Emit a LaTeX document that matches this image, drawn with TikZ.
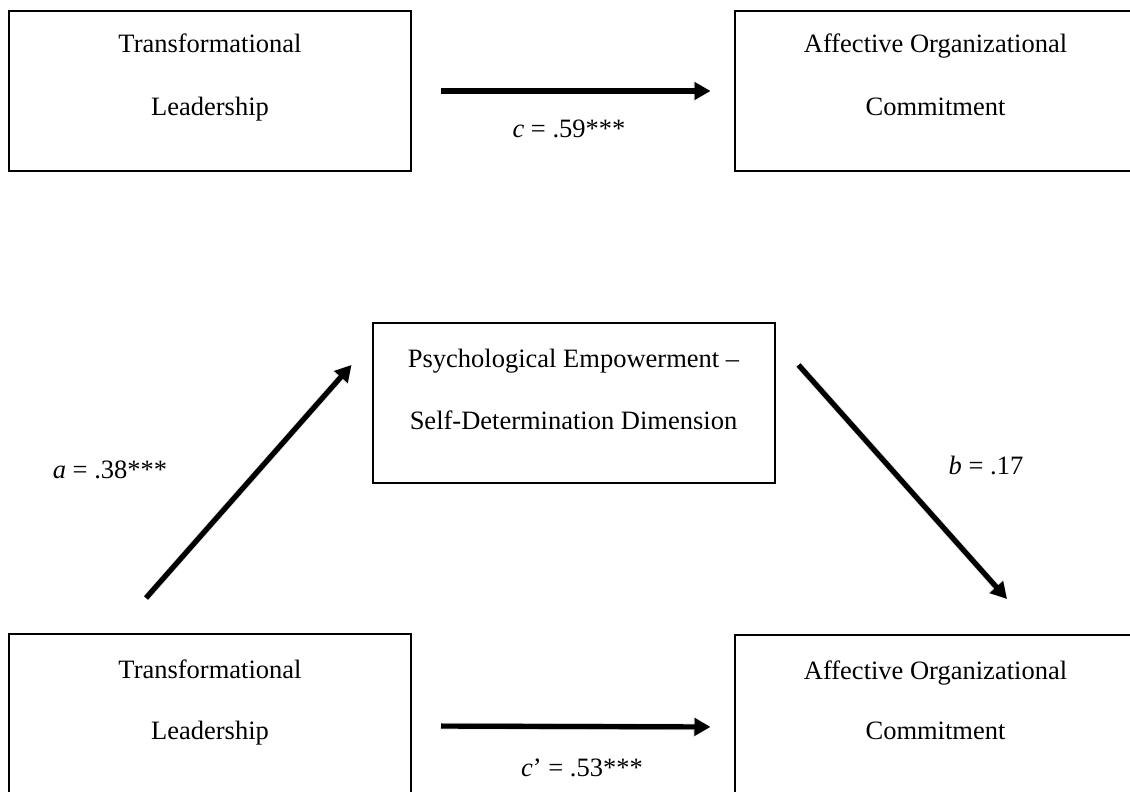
\documentclass[tikz,border=0pt]{standalone}
\usepackage{fontspec}
\setmainfont{Liberation Serif}
\usetikzlibrary{arrows.meta}
\begin{document}
\begin{tikzpicture}[x=0.5pt,y=-0.5pt,
  box/.style={draw, line width=1pt, minimum width=201pt, minimum height=80pt, inner sep=0pt},
  txt/.style={anchor=base, inner sep=0pt, font=\fontsize{13.25pt}{16pt}\selectfont},
  path arrow/.style={line width=2.6pt, -{Triangle[length=8pt,width=8.5pt]}},
  shade arrow/.style={line width=3.2pt, draw=black!35, opacity=0.45, -{Triangle[length=8.5pt,width=9.5pt]}}
]
\useasboundingbox (0,0) rectangle (1130,792);
\clip (0,0) rectangle (1130,792);

% total effect model
\node[box] (tl) at (210,91) {};
\node[box] (tr) at (935.5,91) {};
\node[txt] (tl1) at (210,53) {Transformational};
\node[txt] (tl2) at (210,116) {Leadership};
\node[txt] (tr1) at (935.5,53) {Affective Organizational};
\node[txt] (tr2) at (935.5,116) {Commitment};

% mediation model
\node[box] (mid) at (573.5,403) {};
\node[txt] (mid1) at (573.5,367) {Psychological Empowerment –};
\node[txt] (mid2) at (573.5,429) {Self-Determination Dimension};

\node[box] (bl) at (210,714) {};
\node[box] (br) at (935.5,715) {};
\node[txt] (bl1) at (210,678) {Transformational};
\node[txt] (bl2) at (210,739) {Leadership};
\node[txt] (br1) at (935.5,679) {Affective Organizational};
\node[txt] (br2) at (935.5,739) {Commitment};

% soft shadows under the paths
\begin{scope}[shift={(1.6,1.6)}]
\draw[shade arrow, shorten <=14.5pt, shorten >=11.5pt] (tl.east) -- (tr.west);
\draw[shade arrow, shorten <=14.5pt, shorten >=11.5pt] ([yshift=-6pt]bl.east) -- ([yshift=-6pt]br.west);
\draw[shade arrow] ([xshift=69pt,yshift=17.5pt]bl.north west) -- ([xshift=-10pt,yshift=-21.5pt]mid.north west);
\draw[shade arrow] ([xshift=11.5pt,yshift=-21.5pt]mid.north east) -- ([xshift=35.75pt,yshift=17.5pt]br.north);
\end{scope}

% paths
\draw[path arrow, shorten <=14.5pt, shorten >=11.5pt] (tl.east) -- (tr.west);
\draw[path arrow, shorten <=14.5pt, shorten >=11.5pt] ([yshift=-6pt]bl.east) -- ([yshift=-6pt]br.west);
\draw[path arrow] ([xshift=69pt,yshift=17.5pt]bl.north west) -- ([xshift=-10pt,yshift=-21.5pt]mid.north west);
\draw[path arrow] ([xshift=11.5pt,yshift=-21.5pt]mid.north east) -- ([xshift=35.75pt,yshift=17.5pt]br.north);

% coefficients
\node[txt] (lc) at (569,138) {\textit{c} = .59***};
\node[txt] (la) at (110,478) {\textit{a} = .38***};
\node[txt] (lb) at (986,474) {\textit{b} = .17};
\node[txt] (lcp) at (582,776) {\textit{c}’ = .53***};
\end{tikzpicture}
\end{document}
